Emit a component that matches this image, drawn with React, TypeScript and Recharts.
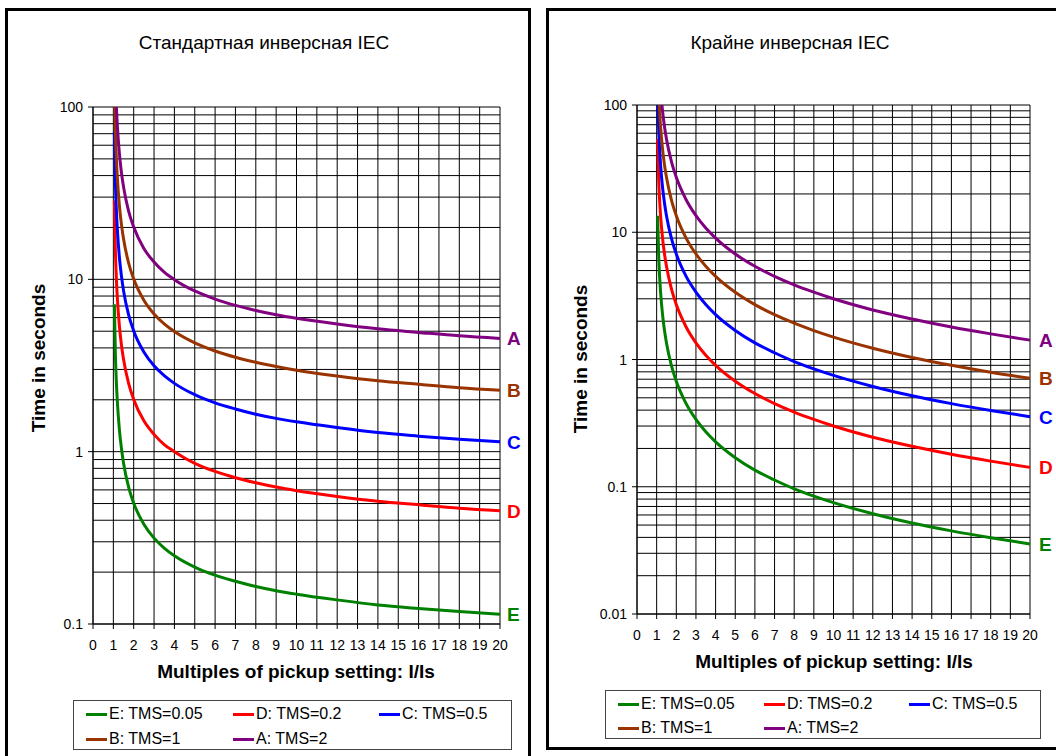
import { LineChart, Line, XAxis, YAxis, CartesianGrid } from 'recharts';

const FONT = '"Liberation Sans", Arial, sans-serif';

// multiples of pickup setting I/Is (shared by both charts)
const multiples = [1.05, 1.1, 1.15, 1.2, 1.3, 1.4, 1.5, 1.75, 2, 2.5, 3, 3.5, 4, 5, 6, 7, 8, 9, 10, 12, 14, 16, 18, 20];

// Стандартная инверсная IEC, seconds
const stdA = [286.8, 146.8, 100.0, 76.6, 53.2, 41.4, 34.4, 24.9, 20.1, 15.1, 12.6, 11.0, 9.96, 8.56, 7.68, 7.06, 6.6, 6.23, 5.94, 5.5, 5.16, 4.92, 4.7, 4.54];
const stdB = [143.4, 73.4, 50.0, 38.3, 26.6, 20.7, 17.2, 12.44, 10.03, 7.57, 6.3, 5.52, 4.98, 4.28, 3.84, 3.53, 3.3, 3.12, 2.97, 2.75, 2.58, 2.46, 2.35, 2.27];
const stdC = [71.7, 36.7, 25.0, 19.2, 13.3, 10.4, 8.6, 6.22, 5.02, 3.79, 3.15, 2.76, 2.49, 2.14, 1.92, 1.77, 1.65, 1.56, 1.49, 1.38, 1.29, 1.23, 1.18, 1.14];
const stdD = [28.7, 14.7, 10.0, 7.66, 5.32, 4.14, 3.44, 2.49, 2.01, 1.51, 1.26, 1.1, 1.0, 0.856, 0.768, 0.706, 0.66, 0.623, 0.594, 0.55, 0.516, 0.492, 0.47, 0.454];
const stdE = [7.17, 3.67, 2.5, 1.92, 1.33, 1.04, 0.86, 0.622, 0.502, 0.379, 0.315, 0.276, 0.249, 0.214, 0.192, 0.177, 0.165, 0.156, 0.149, 0.138, 0.129, 0.123, 0.118, 0.114];

// Крайне инверсная IEC, seconds
const extA = [540, 270, 180, 135, 90, 67.5, 54, 36, 27, 18, 13.5, 10.8, 9.0, 6.75, 5.4, 4.5, 3.86, 3.38, 3.0, 2.45, 2.08, 1.8, 1.59, 1.42];
const extB = [270, 135, 90, 67.5, 45, 33.75, 27, 18, 13.5, 9, 6.75, 5.4, 4.5, 3.375, 2.7, 2.25, 1.929, 1.688, 1.5, 1.227, 1.038, 0.9, 0.794, 0.711];
const extC = [135, 67.5, 45, 33.75, 22.5, 16.9, 13.5, 9.0, 6.75, 4.5, 3.38, 2.7, 2.25, 1.69, 1.35, 1.13, 0.964, 0.844, 0.75, 0.614, 0.519, 0.45, 0.397, 0.355];
const extD = [54, 27, 18, 13.5, 9.0, 6.75, 5.4, 3.6, 2.7, 1.8, 1.35, 1.08, 0.9, 0.675, 0.54, 0.45, 0.386, 0.338, 0.3, 0.245, 0.208, 0.18, 0.159, 0.142];
const extE = [13.5, 6.75, 4.5, 3.38, 2.25, 1.69, 1.35, 0.9, 0.675, 0.45, 0.338, 0.27, 0.225, 0.169, 0.135, 0.113, 0.0964, 0.0844, 0.075, 0.0614, 0.0519, 0.045, 0.0397, 0.0355];

const seriesKeys = ['E', 'D', 'C', 'B', 'A'];
const seriesNames = ['E: TMS=0.05', 'D: TMS=0.2', 'C: TMS=0.5', 'B: TMS=1', 'A: TMS=2'];
const seriesColors = ['#008000', '#ff0000', '#0000ff', '#993300', '#800080'];

const xTicks = [0, 1, 2, 3, 4, 5, 6, 7, 8, 9, 10, 11, 12, 13, 14, 15, 16, 17, 18, 19, 20];
const stdTicks = [0.1, 1, 10, 100];
const extTicks = [0.01, 0.1, 1, 10, 100];
const stdGrid = [0.1, 0.2, 0.3, 0.4, 0.5, 0.6, 0.7, 0.8, 0.9, 1, 2, 3, 4, 5, 6, 7, 8, 9, 10, 20, 30, 40, 50, 60, 70, 80, 90, 100];
const extGrid = [0.01, 0.02, 0.03, 0.04, 0.05, 0.06, 0.07, 0.08, 0.09, ...stdGrid];

const stdRows = multiples.map((m, i) => ({ m, A: stdA[i], B: stdB[i], C: stdC[i], D: stdD[i], E: stdE[i] }));
const extRows = multiples.map((m, i) => ({ m, A: extA[i], B: extB[i], C: extC[i], D: extD[i], E: extE[i] }));

const endLabel = (letter: string, color: string, last: number, dx: number) => (props: any) => {
  const idx = props.index;
  if (idx !== undefined && idx !== last) return null;
  const x = props.x ?? props.viewBox?.x;
  const y = props.y ?? props.viewBox?.y;
  if (x == null || y == null) return null;
  return (
    <text x={x + dx} y={y} dy={7} fill={color} fontSize={19} fontWeight="bold" fontFamily={FONT}>
      {letter}
    </text>
  );
};

// tick text drawn at the position the axis hands over
const xTick = (props: any) => (
  <text x={props.x} y={props.y} dy={15} textAnchor="middle" fill="#000" fontSize={14} fontFamily={FONT}>
    {props.payload.value}
  </text>
);
const yTick = (props: any) => (
  <text x={props.x} y={props.y} dy={5} textAnchor="end" fill="#000" fontSize={14} fontFamily={FONT}>
    {props.payload.value}
  </text>
);

type PanelProps = {
  left: number;
  width: number;
  margin: { top: number; right: number; bottom: number; left: number };
  rows: any[];
  yDomain: [number, number];
  yTicks: number[];
  yGrid: number[];
  labelDx: number;
};

function CurveChart({ left, width, margin, rows, yDomain, yTicks, yGrid, labelDx }: PanelProps) {
  const last = rows.length - 1;
  return (
    <div style={{ position: 'absolute', left, top: 0 }}>
      <LineChart width={width} height={756} data={rows} margin={margin}>
        <CartesianGrid stroke="#000" strokeWidth={1} horizontalValues={yGrid} verticalValues={xTicks} />
        <XAxis
          type="number"
          dataKey="m"
          domain={[0, 20]}
          ticks={xTicks}
          interval={0}
          height={30}
          tickSize={5}
          tickMargin={6}
          stroke="#000"
          tick={xTick}
        />
        <YAxis
          scale="log"
          domain={yDomain}
          allowDataOverflow
          ticks={yTicks}
          interval={0}
          width={60}
          tickSize={5}
          tickMargin={5}
          stroke="#000"
          tick={yTick}
        />
        {seriesKeys.map((k, i) => (
          <Line
            key={k}
            dataKey={k}
            type="monotone"
            stroke={seriesColors[i]}
            strokeWidth={3}
            dot={false}
            isAnimationActive={false}
            label={endLabel(k, seriesColors[i], last, labelDx)}
          />
        ))}
      </LineChart>
    </div>
  );
}

function LegendBox({ left, top, width, height, rowY, colX }: { left: number; top: number; width: number; height: number; rowY: number[]; colX: number[] }) {
  return (
    <div style={{ position: 'absolute', left, top, width, height, border: '1px solid #444', boxSizing: 'border-box' }}>
      {seriesNames.map((name, i) => (
        <div
          key={name}
          style={{
            position: 'absolute',
            left: colX[i % 3] - left,
            top: rowY[Math.floor(i / 3)] - top - 10,
            height: 20,
            display: 'flex',
            alignItems: 'center',
            whiteSpace: 'nowrap',
            fontSize: 16,
          }}
        >
          <span style={{ display: 'inline-block', width: 21, height: 3, background: seriesColors[i], marginRight: 2 }} />
          {name}
        </div>
      ))}
    </div>
  );
}

const textBase = { position: 'absolute' as const, whiteSpace: 'nowrap' as const, color: '#000' };

export default function App() {
  return (
    <div style={{ position: 'absolute', left: 0, top: 0, width: 1056, height: 756, background: '#fff', overflow: 'hidden', fontFamily: FONT }}>
      {/* panel frames */}
      <div style={{ position: 'absolute', left: 5, top: 8, width: 520, height: 800, border: '3px solid #000' }} />
      <div style={{ position: 'absolute', left: 546, top: 8, width: 600, height: 736, border: '3px solid #000' }} />

      {/* left: standard inverse */}
      <div style={{ ...textBase, left: 64, width: 400, top: 32, textAlign: 'center', fontSize: 19 }}>Стандартная инверсная IEC</div>
      <div style={{ ...textBase, left: 39, top: 358, transform: 'translate(-50%, -50%) rotate(-90deg)', fontSize: 19, fontWeight: 'bold' }}>
        Time in seconds
      </div>
      <div style={{ ...textBase, left: 96, width: 400, top: 661, textAlign: 'center', fontSize: 19, fontWeight: 'bold' }}>
        Multiples of pickup setting: I/Is
      </div>
      <CurveChart
        left={0}
        width={530}
        margin={{ top: 107, right: 30, bottom: 102, left: 33 }}
        rows={stdRows}
        yDomain={[0.1, 100]}
        yTicks={stdTicks}
        yGrid={stdGrid}
        labelDx={7}
      />
      <LegendBox left={73} top={700} width={439} height={50} rowY={[713, 738]} colX={[85, 232, 378]} />

      {/* right: extremely inverse */}
      <div style={{ ...textBase, left: 590, width: 400, top: 32, textAlign: 'center', fontSize: 19 }}>Крайне инверсная IEC</div>
      <div style={{ ...textBase, left: 581, top: 359, transform: 'translate(-50%, -50%) rotate(-90deg)', fontSize: 19, fontWeight: 'bold' }}>
        Time in seconds
      </div>
      <div style={{ ...textBase, left: 634, width: 400, top: 651, textAlign: 'center', fontSize: 19, fontWeight: 'bold' }}>
        Multiples of pickup setting: I/Is
      </div>
      <CurveChart
        left={540}
        width={516}
        margin={{ top: 105, right: 26, bottom: 112, left: 37 }}
        rows={extRows}
        yDomain={[0.01, 100]}
        yTicks={extTicks}
        yGrid={extGrid}
        labelDx={9}
      />
      <LegendBox left={605} top={690} width={436} height={49} rowY={[703, 727]} colX={[617, 763, 908]} />
    </div>
  );
}
